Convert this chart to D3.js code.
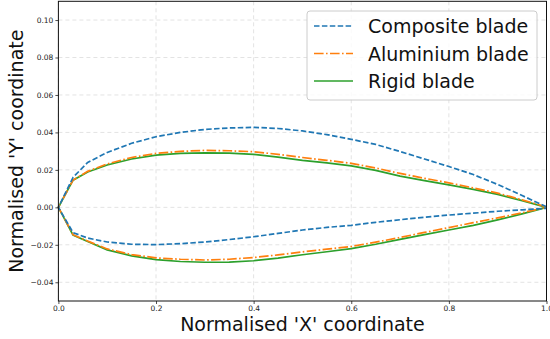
<!DOCTYPE html>
<html><head><meta charset="utf-8">
<script src="https://cdn.jsdelivr.net/npm/d3@7"></script>
<style>body{margin:0;background:#fff;} svg{display:block;font-family:"DejaVu Sans",sans-serif;}</style>
</head><body>
<svg id="c" width="550" height="339"></svg>
<script>
const xs = [0, 0.03, 0.06, 0.1, 0.15, 0.2, 0.25, 0.3, 0.35, 0.4, 0.45, 0.5, 0.55, 0.6, 0.65, 0.7, 0.75, 0.8, 0.85, 0.9, 0.95, 1.0];
const compositeUpper = [0, 0.0160, 0.0240, 0.0293, 0.0342, 0.0377, 0.0400, 0.0416, 0.0424, 0.0427, 0.0421, 0.0408, 0.0388, 0.0363, 0.0336, 0.0298, 0.0258, 0.0218, 0.0175, 0.0122, 0.0063, 0.0003];
const compositeLower = [0, -0.0135, -0.0164, -0.0185, -0.0197, -0.0199, -0.0194, -0.0185, -0.0172, -0.0157, -0.0139, -0.0121, -0.0107, -0.0096, -0.0080, -0.0066, -0.0053, -0.0041, -0.0031, -0.0021, -0.0013, -0.0005];
const aluminiumUpper = [0, 0.0146, 0.0192, 0.0232, 0.0266, 0.0288, 0.0299, 0.0304, 0.0302, 0.0297, 0.0283, 0.0266, 0.0251, 0.0235, 0.0210, 0.0181, 0.0155, 0.0131, 0.0104, 0.0076, 0.0040, 0.0002];
const aluminiumLower = [0, -0.0146, -0.0180, -0.0222, -0.0252, -0.0270, -0.0277, -0.0281, -0.0277, -0.0268, -0.0254, -0.0238, -0.0223, -0.0209, -0.0186, -0.0161, -0.0134, -0.0108, -0.0082, -0.0056, -0.0029, 0];
const rigidUpper = [0, 0.0145, 0.0189, 0.0226, 0.0258, 0.0279, 0.0288, 0.0291, 0.0289, 0.0283, 0.0268, 0.0251, 0.0237, 0.0221, 0.0197, 0.0167, 0.0143, 0.0120, 0.0096, 0.0069, 0.0036, 0];
const rigidLower = [0, -0.0148, -0.0182, -0.0227, -0.0259, -0.0279, -0.0289, -0.0293, -0.0292, -0.0285, -0.0271, -0.0253, -0.0237, -0.0220, -0.0197, -0.0171, -0.0146, -0.0121, -0.0096, -0.0067, -0.0035, 0];
const seriesNames = ["Composite blade", "Aluminium blade", "Rigid blade"];
const xTicks = [0.0, 0.2, 0.4, 0.6, 0.8, 1.0];
const yTicks = [-0.04, -0.02, 0.00, 0.02, 0.04, 0.06, 0.08, 0.10];

const svg = d3.select("#c");
const L = 58.4, R = 546.5, T = 1.3, B = 301;
const x = d3.scaleLinear().domain([0, 1]).range([L, R]);
const y = d3.scaleLinear().domain([-0.05, 0.11]).range([B, T]);

// grid
const g = svg.append("g");
g.selectAll(".gx").data(xTicks).join("line")
  .attr("x1", d => x(d)).attr("x2", d => x(d)).attr("y1", T).attr("y2", B)
  .attr("stroke", "#e3e3e3").attr("stroke-width", 1).attr("stroke-dasharray", "4,3");
g.selectAll(".gy").data(yTicks).join("line")
  .attr("y1", d => y(d)).attr("y2", d => y(d)).attr("x1", L).attr("x2", R)
  .attr("stroke", "#e3e3e3").attr("stroke-width", 1).attr("stroke-dasharray", "4,3");

const series = [
  {name: seriesNames[0], up: compositeUpper, lo: compositeLower, color: "#1f77b4", dash: "5.5,2.4"},
  {name: seriesNames[1], up: aluminiumUpper, lo: aluminiumLower, color: "#ff7f0e", dash: "9.6,2.4,1.6,2.4"},
  {name: seriesNames[2], up: rigidUpper, lo: rigidLower, color: "#2ca02c", dash: null}
];
const line = d3.line().x(d => x(d[0])).y(d => y(d[1]));
series.slice().reverse().forEach(s => {
  const pts = xs.map((v, i) => [v, s.up[i]]).reverse().concat(xs.map((v, i) => [v, s.lo[i]]).slice(1));
  svg.append("path").attr("d", line(pts)).attr("fill", "none")
    .attr("stroke", s.color).attr("stroke-width", 1.7)
    .attr("stroke-dasharray", s.dash);
});

// axes
const xa = svg.append("g").attr("transform", `translate(0,${B})`)
  .call(d3.axisBottom(x).tickValues(xTicks).tickFormat(d3.format(".1f")).tickSize(3).tickPadding(2));
const ya = svg.append("g").attr("transform", `translate(${L},0)`)
  .call(d3.axisLeft(y).tickValues(yTicks).tickFormat(d3.format(".2f")).tickSize(3).tickPadding(2));
[xa, ya].forEach(a => {
  a.select(".domain").remove();
  a.selectAll("text").attr("font-size", 7.5).attr("fill", "#222").attr("font-family", "DejaVu Sans");
  a.selectAll("line").attr("stroke", "#222").attr("stroke-width", 0.8);
});
svg.append("rect").attr("x", L).attr("y", T).attr("width", R - L).attr("height", B - T)
  .attr("fill", "none").attr("stroke", "#111").attr("stroke-width", 1);

// labels
svg.append("text").attr("x", (L + R) / 2).attr("y", 331).attr("text-anchor", "middle")
  .attr("font-size", 19).attr("fill", "#111").text("Normalised 'X' coordinate");
svg.append("text").attr("transform", `translate(23,${(T + B) / 2}) rotate(-90)`).attr("text-anchor", "middle")
  .attr("font-size", 19).attr("fill", "#111").text("Normalised 'Y' coordinate");

// legend
const lg = svg.append("g");
lg.append("rect").attr("x", 307).attr("y", 11).attr("width", 230).attr("height", 89).attr("rx", 3)
  .attr("fill", "#fff").attr("fill-opacity", 0.8).attr("stroke", "#ccc").attr("stroke-width", 1);
series.forEach((s, i) => {
  const yy = 26 + i * 27.5;
  lg.append("line").attr("x1", 314).attr("x2", 353).attr("y1", yy).attr("y2", yy)
    .attr("stroke", s.color).attr("stroke-width", 1.7).attr("stroke-dasharray", s.dash);
  lg.append("text").attr("x", 368).attr("y", yy + 7).attr("font-size", 19).attr("fill", "#111").text(s.name);
});
</script>
</body></html>
